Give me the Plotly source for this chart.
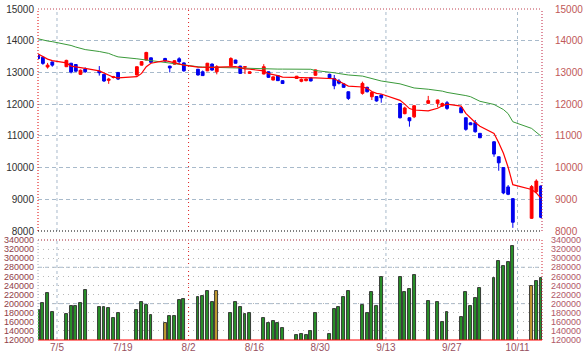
import plotly.graph_objects as go

dates = ["2008-07-01","2008-07-02","2008-07-03","2008-07-04","2008-07-07","2008-07-08","2008-07-09","2008-07-10","2008-07-11",
         "2008-07-14","2008-07-15","2008-07-16","2008-07-17","2008-07-18","2008-07-22","2008-07-23","2008-07-24","2008-07-25",
         "2008-07-28","2008-07-29","2008-07-30","2008-07-31","2008-08-01","2008-08-04","2008-08-05","2008-08-06","2008-08-07",
         "2008-08-08","2008-08-11","2008-08-12","2008-08-13","2008-08-14","2008-08-15","2008-08-18","2008-08-19","2008-08-20",
         "2008-08-21","2008-08-22","2008-08-25","2008-08-26","2008-08-27","2008-08-28","2008-08-29","2008-09-01","2008-09-02",
         "2008-09-03","2008-09-04","2008-09-05","2008-09-08","2008-09-09","2008-09-10","2008-09-11","2008-09-12","2008-09-16",
         "2008-09-17","2008-09-18","2008-09-19","2008-09-22","2008-09-24","2008-09-25","2008-09-26","2008-09-29","2008-09-30",
         "2008-10-01","2008-10-02","2008-10-03","2008-10-06","2008-10-07","2008-10-08","2008-10-09","2008-10-10","2008-10-14",
         "2008-10-15","2008-10-16"]

open_ = [13530,13480,13170,13330,13180,13290,13250,12940,13110,13040,12940,12750,12840,13000,12920,13230,13390,13460,
         13440,13200,13260,13430,13300,13100,13020,13050,13265,13020,13210,13390,13200,13165,12970,12950,13020,12760,
         12900,12740,12810,12720,12740,12830,12910,12940,12810,12730,12640,12390,12340,12530,12233,12240,12290,12020,
         11700,11570,11600,12025,12025,11940,12045,11890,11570,11410,11413,11080,10813,10340,10000,9390,9020,8400,
         9240,9420]
close = [13440,13285,13230,13230,13380,13010,13040,13070,13020,12990,12730,12790,12860,12790,13180,13340,13630,13320,
         13360,13140,13370,13340,13050,12920,12900,13290,13075,13180,13440,13290,12970,13180,13020,13180,12845,12860,
         12740,12650,12880,12780,12790,12730,13080,12830,12580,12660,12530,12180,12655,12390,12372,12100,12200,11570,
         11880,11475,11950,12110,12130,12020,11866,11728,11205,11350,11130,10940,10425,10150,9200,9157,8276,9400,
         9575,8430]
high = [13560,13500,13300,13340,13400,13300,13260,13090,13160,13200,12950,12830,12890,13010,13190,13360,13650,13470,
        13460,13210,13380,13480,13320,13110,13060,13300,13280,13230,13480,13400,13210,13190,13030,13260,13030,12870,
        12910,12750,12890,12810,12810,12840,13090,12960,12920,12790,12650,12400,12710,12550,12390,12250,12300,12030,
        11920,11580,11960,12260,12140,12050,12100,11920,11580,11430,11500,11090,10830,10350,10010,9450,9040,9450,
        9630,9440]
low = [13420,13240,13120,13180,13170,12970,13020,12920,12990,12900,12700,12640,12810,12760,12900,13220,13380,13300,
       13340,13000,13250,13270,13020,12900,12890,13040,13050,12940,13200,13280,12960,12950,12960,12940,12830,12750,
       12730,12640,12800,12690,12720,12720,12900,12820,12470,12620,12520,12130,12300,12370,12130,12080,12045,11550,
       11680,11290,11560,12020,11900,11920,11820,11720,11160,11340,11100,10930,10340,9900,9160,9130,8100,8380,
       9190,8400]
ma_short = [13580,13500,13420,13370,13300,13200,13170,13140,13130,13050,12980,12900,12850,12830,12865,12970,13180,13290,
            13370,13340,13300,13250,13230,13170,13160,13160,13160,13165,13180,13180,13150,13110,13100,13050,12960,12940,
            12900,12850,12830,12830,12830,12830,12830,12810,12800,12720,12640,12570,12540,12500,12400,12340,12320,12120,
            12000,11860,11815,11790,11870,11950,12000,11940,11710,11560,11420,11300,11075,10780,10450,10010,9460,9310,
            9200,9030]
ma_long = [14060,14020,13990,13970,13890,13850,13800,13760,13720,13660,13630,13600,13540,13490,13430,13410,13380,13360,
           13310,13290,13280,13250,13230,13180,13170,13165,13160,13150,13140,13135,13130,13125,13120,13115,13110,13110,
           13105,13105,13105,13105,13105,13100,13060,13020,12990,12965,12940,12920,12885,12850,12800,12760,12730,12640,
           12600,12560,12510,12470,12445,12410,12370,12310,12270,12235,12160,12090,11990,11920,11830,11700,11445,11235,
           11110,10990]
volume = [186000,202000,224000,182000,177000,195000,195000,200500,230000,192000,192000,190000,168000,178700,186000,
          203600,196000,175000,156700,172800,172800,208000,210000,213900,216800,227800,203600,227800,178700,204300,
          193300,177200,178700,167700,158100,161800,156700,145700,131000,133200,131000,139800,178700,133200,187500,
          192000,213900,227800,197000,178700,225600,194800,258600,258600,225600,232200,263000,205800,203600,159600,
          181600,171300,225600,194800,213100,233600,256400,294500,283500,290900,326800,238800,250500,256000]
highlight_days = ["2008-07-28", "2008-08-08", "2008-10-14"]

tick_dates = ["2008-07-05","2008-07-19","2008-08-02","2008-08-16","2008-08-30","2008-09-13","2008-09-27","2008-10-11"]
tick_text = ["7/5","7/19","8/2","8/16","8/30","9/13","9/27","10/11"]
price_ticks = [8000,9000,10000,11000,12000,13000,14000,15000]
vol_ticks = list(range(120000, 340001, 20000))
vol_major = [200000, 280000]
grid_days = ["2008-07-05", "2008-09-13", "2008-10-11"]
red_grid_day = "2008-08-02"

bar_colors = ["#c09a30" if d in highlight_days else "#289028" for d in dates]

fig = go.Figure()
fig.add_trace(go.Scatter(x=dates, y=ma_long, mode="lines", line=dict(color="#3a9a3a", width=1),
                         xaxis="x", yaxis="y", showlegend=False, hoverinfo="skip"))
fig.add_trace(go.Scatter(x=dates, y=ma_short, mode="lines", line=dict(color="#ff0000", width=1.2),
                         xaxis="x", yaxis="y", showlegend=False, hoverinfo="skip"))
fig.add_trace(go.Candlestick(x=dates, open=open_, high=high, low=low, close=close,
                             increasing=dict(line=dict(color="#ff0000", width=1), fillcolor="#ff0000"),
                             decreasing=dict(line=dict(color="#0000ee", width=1), fillcolor="#0000ee"),
                             whiskerwidth=0, xaxis="x", yaxis="y", showlegend=False))
fig.add_trace(go.Bar(x=dates, y=volume, base=0, width=0.62 * 86400000,
                     marker=dict(color=bar_colors, line=dict(color="#2b2b2b", width=0.9)),
                     xaxis="x2", yaxis="y2", showlegend=False))
fig.add_trace(go.Scatter(x=[], y=[], xaxis="x", yaxis="y3", showlegend=False))
fig.add_trace(go.Scatter(x=[], y=[], xaxis="x2", yaxis="y4", showlegend=False))

xr = ["2008-06-30 23:00", "2008-10-16 05:00"]
pdom = [0.3293, 1.0]
vdom = [0.0, 0.3021]
lab_font = dict(family="Liberation Sans, Arial, sans-serif", size=10)

fig.update_layout(
    template="none",
    width=584, height=360, margin=dict(l=38, r=42, t=9, b=20, pad=0), autosize=False,
    paper_bgcolor="white", plot_bgcolor="white", boxgap=0.15, bargap=0, showlegend=False,
    xaxis=dict(domain=[0, 1], anchor="y", range=xr, type="date", showticklabels=False, automargin=False,
               showgrid=False, zeroline=False, showline=False, rangeslider=dict(visible=False), ticks=""),
    xaxis2=dict(domain=[0, 1], anchor="y2", range=xr, type="date", matches="x", automargin=False,
                tickvals=tick_dates, ticktext=tick_text, showgrid=False, zeroline=False, showline=False,
                ticks="", tickfont=dict(lab_font, color="#985060")),
    yaxis=dict(domain=pdom, anchor="x", range=[8000, 15000], tickvals=price_ticks, automargin=False,
               ticktext=[str(v) for v in price_ticks], showgrid=True, gridcolor="#a8bacb", showline=False,
               griddash="4px,3px", gridwidth=1, zeroline=False, ticks="", ticklabelstandoff=3,
               tickfont=dict(lab_font, color="#303030")),
    yaxis3=dict(domain=pdom, anchor="x", overlaying="y", side="right", range=[8000, 15000], automargin=False,
                tickvals=price_ticks, ticktext=[str(v) for v in price_ticks], showgrid=False, showline=False,
                zeroline=False, ticks="", ticklabelstandoff=12, tickfont=dict(lab_font, color="#c05858")),
    yaxis2=dict(domain=vdom, anchor="x2", range=[120000, 340000], tickvals=vol_ticks, automargin=False,
                ticktext=[str(v) for v in vol_ticks], showgrid=True, gridcolor="#b8b8b8", showline=False,
                griddash="1px,4px", gridwidth=1, zeroline=False, ticks="", ticklabelstandoff=3,
                tickfont=dict(lab_font, size=9, color="#904048")),
    yaxis4=dict(domain=vdom, anchor="x2", overlaying="y2", side="right", range=[120000, 340000], automargin=False,
                tickvals=vol_ticks, ticktext=[str(v) for v in vol_ticks], showgrid=False, showline=False,
                zeroline=False, ticks="", ticklabelstandoff=8, tickfont=dict(lab_font, size=9, color="#b05868")),
)

shapes = []
for d in grid_days:
    for yr in ("y domain", "y2 domain"):
        shapes.append(dict(type="line", xref="x", yref=yr, x0=d, x1=d, y0=0, y1=1,
                           line=dict(color="#a8bacb", width=1, dash="3px,3px"), layer="below"))
for yr in ("y domain", "y2 domain"):
    shapes.append(dict(type="line", xref="x", yref=yr, x0=red_grid_day, x1=red_grid_day, y0=0, y1=1,
                       line=dict(color="#dd2020", width=1, dash="1px,3px"), layer="below"))
for v in vol_major:
    shapes.append(dict(type="line", xref="x domain", yref="y2", x0=0, x1=1, y0=v, y1=v,
                       line=dict(color="#a8bacb", width=1, dash="4px,3px"), layer="below"))
shapes += [
    dict(type="line", xref="x domain", yref="y domain", x0=0, x1=0, y0=0, y1=1, line=dict(color="#e00000", width=1, dash="1px,2px")),
    dict(type="line", xref="x domain", yref="y domain", x0=1, x1=1, y0=0, y1=1, line=dict(color="#c02040", width=1, dash="1px,2px")),
    dict(type="line", xref="x domain", yref="y domain", x0=0, x1=1, y0=1, y1=1, line=dict(color="#c04050", width=1, dash="1px,2px")),
    dict(type="line", xref="x domain", yref="y domain", x0=0, x1=1, y0=0, y1=0, line=dict(color="#000000", width=1, dash="1px,2px")),
    dict(type="line", xref="x domain", yref="y2 domain", x0=0, x1=1, y0=1, y1=1, line=dict(color="#a02030", width=1, dash="1px,2px")),
    dict(type="line", xref="x domain", yref="y2 domain", x0=0, x1=1, y0=0, y1=0, line=dict(color="#ff0000", width=1)),
    dict(type="line", xref="x domain", yref="y2 domain", x0=0, x1=0, y0=0, y1=1, line=dict(color="#a8b0c0", width=1, dash="1px,2px")),
    dict(type="line", xref="x domain", yref="y2 domain", x0=1, x1=1, y0=0, y1=1, line=dict(color="#d02030", width=1, dash="1px,2px")),
]
fig.update_layout(shapes=shapes)

fig.write_html("out.html", config={"displayModeBar": False},
               post_script="document.body.style.margin='0';document.body.style.overflow='hidden';")
